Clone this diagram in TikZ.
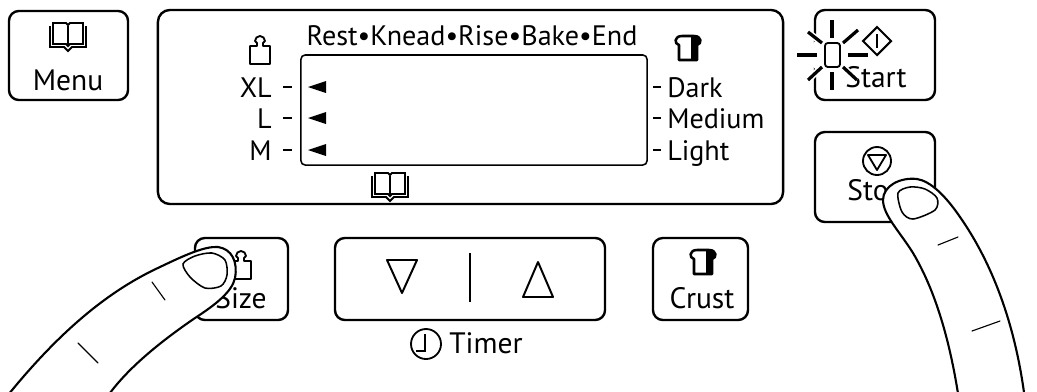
\documentclass[tikz,border=0pt]{standalone}
\usepackage{fontspec}
\setmainfont{PT Sans}
\usetikzlibrary{positioning}

% small panel symbols, drawn in pixel units (y grows downwards)
\tikzset{
  bookicon/.pic={
    \draw[line width=1.3pt] (-15,-14) -- (-15,7) -- (-2,7) -- (0,9) -- (2,7) -- (15,7) -- (15,-14) -- (2,-14) -- (0,-12) -- (-2,-14) -- cycle;
    \draw[line width=0.9pt] (0,-11) -- (0,8);
    \draw[line width=1.3pt] (-18,-11) -- (-18,10) -- (-4,10) -- (0,14) -- (4,10) -- (18,10) -- (18,-11);
  },
  weighticon/.pic={
    \draw[line width=1.3pt,line join=round] (-10,-3) -- (-3,-3) -- (-3,-6) -- (-5,-8)
      arc[start angle=180,end angle=360,radius=5] -- (3,-6) -- (3,-3) -- (10,-3) -- (10,15) -- (-10,15) -- cycle;
  },
  breadicon/.pic={
    \begin{scope}
      \clip (-9,12) -- (-9,-3) .. controls (-14,-4) and (-14,-12) .. (-6,-12) -- (6,-12)
        .. controls (14,-12) and (14,-4) .. (9,-3) -- (9,12) -- cycle;
      \fill (3,-14) rectangle (14,14);
    \end{scope}
    \draw[line width=1.8pt,line join=round] (-9,12) -- (-9,-3) .. controls (-14,-4) and (-14,-12) .. (-6,-12) -- (6,-12)
      .. controls (14,-12) and (14,-4) .. (9,-3) -- (9,12) -- cycle;
  }
}

\begin{document}
\begin{tikzpicture}[x=0.025cm,y=-0.025cm,
    key/.style={rectangle,draw,line width=1.7pt,rounded corners=7pt,inner sep=0pt},
    keytext/.style={font=\fontsize{21}{24}\selectfont,inner sep=0pt,anchor=base},
    lcdtext/.style={font=\fontsize{20}{24}\selectfont,inner sep=0pt},
    finger/.style={fill=white,draw,line width=1.5pt,line join=round},
    crease/.style={line width=0.8pt,line cap=round}]
    \useasboundingbox (0,0) rectangle (1037,391);

    % Menu key
    \node[key,minimum width=2.975cm,minimum height=2.225cm] (menu) at (68.5,55.5) {};
    \pic at (68,37) {bookicon};
    \node[keytext] (menutext) at (68,90) {Menu};

    % LCD panel with the display window
    \node[key,rounded corners=8.5pt,minimum width=15.625cm,minimum height=4.85cm] (lcd) at (470.5,107) {};
    \node[rectangle,draw,line width=1.1pt,rounded corners=3pt,minimum width=8.65cm,minimum height=2.75cm] (display) at (474,110) {};
    \node[lcdtext,anchor=base] (stages) at (472,45) {Rest•Knead•Rise•Bake•End};
    \pic at (260,49) {weighticon};
    \pic at (688,48) {breadicon};
    \pic at (390,187) {bookicon};

    % loaf sizes
    \node[lcdtext,anchor=base east] (xl) at (272,97) {XL};
    \node[lcdtext,anchor=base east] (l) at (272,128) {L};
    \node[lcdtext,anchor=base east] (m) at (272,160) {M};
    \foreach \y in {87,118,150} {
      \draw[line width=1.3pt] (283,\y) -- (292,\y);
      \fill (326,\y-6) -- (326,\y+6) -- (308,\y) -- cycle;
    }

    % crust colours
    \node[lcdtext,anchor=base west] (dark) at (667,97) {Dark};
    \node[lcdtext,anchor=base west] (medium) at (667,128) {Medium};
    \node[lcdtext,anchor=base west] (light) at (667,160) {Light};
    \foreach \y in {87,118,150}
      \draw[line width=1.3pt] (653,\y) -- (661,\y);

    % Start key with blinking lamp
    \node[key,minimum width=3cm,minimum height=2.25cm] (start) at (875,55) {};
    \fill[white] (832,55) circle (22);
    \draw[line width=1.5pt] (877,27) -- (891,41) -- (877,55) -- (863,41) -- cycle;
    \draw[line width=1pt] (877,34) -- (877,48);
    \node[keytext] (starttext) at (876,87) {Start};
    \draw[line width=1.3pt,rounded corners=2pt] (825,43) rectangle (840,67);
    \foreach \a/\b in {{832,20}/{832,38},{832,72}/{832,90},{797,55}/{817,55},{848,55}/{868,55},
                       {808,32}/{822,43},{843,43}/{858,30},{808,80}/{822,67},{843,67}/{857,80}}
      \draw[line width=2.3pt,preaction={draw,white,line width=4.5pt}] (\a) -- (\b);

    % Stop key
    \node[key,minimum width=3cm,minimum height=2.25cm] (stop) at (875,177) {};
    \draw[line width=1.3pt] (877,161) circle (14);
    \draw[line width=1.3pt,line join=round] (868,155) -- (886,155) -- (877,170) -- cycle;
    \node[keytext] (stoptext) at (876,200) {Stop};

    % bottom row: Size, Timer, Crust
    \node[key,minimum width=2.325cm,minimum height=2.05cm] (size) at (241.5,279) {};
    \pic at (241,264) {weighticon};
    \node[keytext] (sizetext) at (241,308) {Size};

    \node[key,minimum width=6.75cm,minimum height=2.05cm] (timer) at (470,279) {};
    \draw[line width=1.4pt,line join=round] (387,260) -- (417,260) -- (402,293) -- cycle;
    \draw[line width=1.4pt] (470,253) -- (470,302);
    \draw[line width=1.4pt,line join=round] (523,297) -- (553,297) -- (538,262) -- cycle;
    \node[keytext] (timertext) at (486,353) {Timer};
    \draw[line width=1.3pt] (426,344) circle (15);
    \draw[line width=1.3pt] (425,334) -- (425,351) -- (416,351);

    \node[key,minimum width=2.375cm,minimum height=2.05cm] (crust) at (700.5,279) {};
    \pic at (703,262) {breadicon};
    \node[keytext] (crusttext) at (702,308) {Crust};

    % fingers pressing Size and Stop
    \begin{scope}
      \clip (0,0) rectangle (1037,391);
      \draw[finger] (4,400) .. controls (60,330) and (110,290) .. (160,267)
        .. controls (185,255) and (205,246) .. (218,247)
        .. controls (232,249) and (238,262) .. (235,278)
        .. controls (232,292) and (215,305) .. (195,318)
        .. controls (160,342) and (125,370) .. (105,400) -- cycle;
      \draw[line width=1.1pt] plot[smooth cycle] coordinates {(183,264) (195,256) (212,253) (225,260) (227,275) (221,286) (205,288) (190,277)};
      \draw[crease] (152,282) -- (165,300);
      \draw[crease] (78,343) -- (98,363);

      \draw[finger] (959,400) .. controls (950,340) and (935,290) .. (913,253)
        .. controls (900,232) and (883,215) .. (883,200)
        .. controls (883,186) and (900,177) .. (917,179)
        .. controls (930,181) and (945,195) .. (960,217)
        .. controls (990,260) and (1015,320) .. (1025,400) -- cycle;
      \draw[line width=1.1pt] plot[smooth cycle] coordinates {(898,193) (902,212) (913,219) (935,210) (937,198) (925,189) (910,187)};
      \draw[crease] (938,245) -- (958,237);
      \draw[crease] (972,331) -- (1000,321);
    \end{scope}
\end{tikzpicture}
\end{document}
